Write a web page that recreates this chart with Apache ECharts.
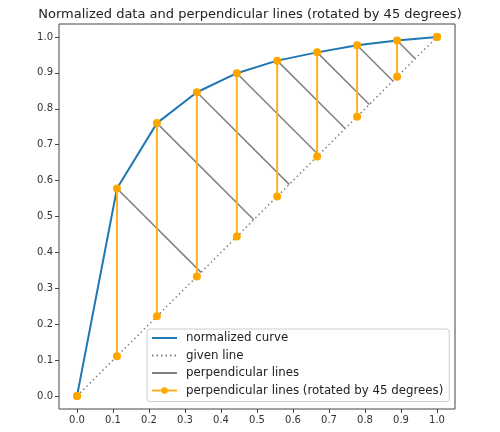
<!DOCTYPE html>
<html>
<head>
<meta charset="utf-8">
<script src="https://cdn.jsdelivr.net/npm/echarts@6/dist/echarts.min.js"></script>
<style>
  html, body { margin: 0; padding: 0; background: #fff; }
  #chart { width: 500px; height: 432px; }
</style>
</head>
<body>
<div id="chart"></div>
<script>
// x positions of the normalized points
const xValues = [0, 0.111, 0.222, 0.333, 0.444, 0.556, 0.667, 0.778, 0.889, 1.0]
// normalized curve values
const yValues = [0, 0.578, 0.760, 0.846, 0.899, 0.934, 0.957, 0.977, 0.990, 1.0]
// tick labels (both axes)
const ticks = [0, 0.1, 0.2, 0.3, 0.4, 0.5, 0.6, 0.7, 0.8, 0.9, 1.0]

const FONT = 'DejaVu Sans'
const TEXT = '#333'
const AXIS = '#444'

const NAME_CURVE = 'normalized curve'
const NAME_GIVEN = 'given line'
const NAME_PERP = 'perpendicular lines'
const NAME_ROT = 'perpendicular lines (rotated by 45 degrees)'

const series = []

// 灰色垂线: 各点到 y=x 的垂足
xValues.forEach((x, i) => {
  const y = yValues[i]
  const f = (x + y) / 2
  series.push({
    type: 'line', name: NAME_PERP, symbol: 'none', z: 3,
    data: [[x, y], [f, f]],
    lineStyle: { color: '#808080', width: 1.5 },
    itemStyle: { color: '#808080' },
    silent: true
  })
})

// 橙色竖线 (旋转 45 度后)
xValues.forEach((x, i) => {
  series.push({
    type: 'line', name: NAME_ROT, symbol: 'circle', symbolSize: 8, z: 4,
    data: [[x, yValues[i]], [x, x]],
    lineStyle: { color: '#ffb020', width: 2 },
    itemStyle: { color: '#ffa500' },
    silent: true
  })
})

series.unshift({
  type: 'line', name: NAME_GIVEN, symbol: 'none', z: 2,
  data: [[0, 0], [1, 1]],
  lineStyle: { color: '#808080', width: 1.5, type: [1.5, 3] },
  itemStyle: { color: '#808080' }
})

series.unshift({
  type: 'line', name: NAME_CURVE, symbol: 'none', z: 2,
  data: xValues.map((x, i) => [x, yValues[i]]),
  lineStyle: { color: '#1f77b4', width: 2 },
  itemStyle: { color: '#1f77b4' }
})

const axisCommon = {
  type: 'value',
  splitLine: { show: false },
  axisLine: { show: false, onZero: false },
  axisTick: { show: true, length: 4, lineStyle: { color: AXIS }, customValues: ticks },
  axisLabel: {
    customValues: ticks,
    formatter: (v) => v.toFixed(1),
    color: TEXT, fontFamily: FONT, fontSize: 10, margin: 6
  }
}

const noMarker = { opacity: 0 }

const chart = echarts.init(document.getElementById('chart'), null, { renderer: 'canvas' })
chart.setOption({
  animation: false,
  backgroundColor: '#fff',
  title: {
    text: 'Normalized data and perpendicular lines (rotated by 45 degrees)',
    left: 'center', top: 3,
    textStyle: { fontFamily: FONT, fontSize: 13, fontWeight: 'normal', color: '#222' }
  },
  grid: {
    left: 59, right: 45, top: 24, bottom: 23,
    show: true, borderColor: AXIS, borderWidth: 1, backgroundColor: 'transparent'
  },
  xAxis: { ...axisCommon, min: -0.05, max: 1.05 },
  yAxis: { ...axisCommon, min: -0.036, max: 1.036 },
  legend: {
    orient: 'vertical',
    left: 147, top: 329,
    padding: [3, 6, 5, 4],
    itemWidth: 25, itemHeight: 8, itemGap: 5.5,
    borderColor: '#ccc', borderWidth: 1, borderRadius: 3,
    backgroundColor: 'rgba(255,255,255,0.85)',
    textStyle: { fontFamily: FONT, fontSize: 11.8, color: '#222', padding: [0, 0, 0, 4] },
    data: [
      { name: NAME_CURVE, itemStyle: noMarker },
      { name: NAME_GIVEN, itemStyle: noMarker },
      { name: NAME_PERP, itemStyle: noMarker },
      { name: NAME_ROT }
    ],
    selectedMode: false
  },
  series: series
})
</script>
</body>
</html>
